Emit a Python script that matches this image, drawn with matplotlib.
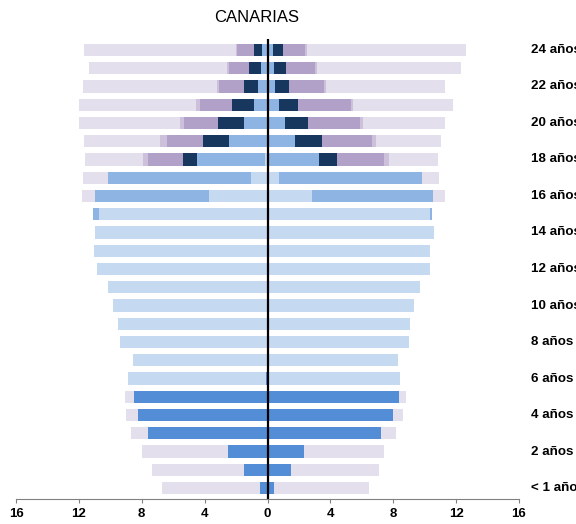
import matplotlib
matplotlib.use("Agg")
import matplotlib.pyplot as plt
import numpy as np

# edades 0..24, valores en % (izquierda = hombres, derecha = mujeres)
edades = list(range(25))
etiquetas = {0: "< 1 año", 2: "2 años", 4: "4 años", 6: "6 años", 8: "8 años",
             10: "10 años", 12: "12 años", 14: "14 años", 16: "16 años",
             18: "18 años", 20: "20 años", 22: "22 años", 24: "24 años"}

# lado izquierdo
infantil_h = [0.48, 1.51, 2.51, 7.60, 8.26, 8.49, 0.10, 0, 0, 0, 0, 0, 0, 0, 0, 0, 0, 0, 0, 0, 0, 0, 0, 0, 0]
primaria_h = [0, 0, 0, 0, 0, 0, 8.79, 8.56, 9.38, 9.49, 9.80, 10.13, 10.87, 11.04, 10.97, 10.74, 3.72, 1.05, 0.16, 0, 0, 0, 0, 0, 0]
eso_h = [0, 0, 0, 0, 0, 0, 0, 0, 0, 0, 0, 0, 0, 0, 0, 0.34, 7.27, 9.12, 4.31, 2.45, 1.48, 0.84, 0.59, 0.43, 0.33]
bach_h = [0, 0, 0, 0, 0, 0, 0, 0, 0, 0, 0, 0, 0, 0, 0, 0, 0, 0, 0.91, 1.65, 1.67, 1.42, 0.90, 0.73, 0.53]
univ_h = [0, 0, 0, 0, 0, 0, 0, 0, 0, 0, 0, 0, 0, 0, 0, 0, 0, 0, 2.24, 2.31, 2.14, 2.03, 1.60, 1.29, 1.10]
otros_h = [0, 0, 0, 0, 0, 0, 0, 0, 0, 0, 0, 0, 0, 0, 0, 0, 0, 0, 0.30, 0.41, 0.28, 0.26, 0.14, 0.11, 0.05]
no_h = [6.25, 5.86, 5.47, 1.08, 0.74, 0.57, 0, 0, 0, 0, 0, 0, 0, 0, 0, 0, 0.83, 1.59, 3.69, 4.87, 6.40, 7.44, 8.49, 8.80, 9.65]

# lado derecho
infantil_m = [0.43, 1.51, 2.34, 7.22, 7.96, 8.35, 0, 0, 0, 0, 0, 0, 0, 0, 0, 0, 0, 0, 0, 0, 0, 0, 0, 0, 0]
primaria_m = [0, 0, 0, 0, 0, 0, 8.45, 8.28, 8.98, 9.08, 9.32, 9.70, 10.36, 10.32, 10.59, 10.34, 2.81, 0.73, 0.11, 0, 0, 0, 0, 0, 0]
eso_m = [0, 0, 0, 0, 0, 0, 0, 0, 0, 0, 0, 0, 0, 0, 0, 0.12, 7.72, 9.08, 3.19, 1.73, 1.09, 0.75, 0.48, 0.41, 0.37]
bach_m = [0, 0, 0, 0, 0, 0, 0, 0, 0, 0, 0, 0, 0, 0, 0, 0, 0, 0, 1.12, 1.76, 1.47, 1.21, 0.89, 0.77, 0.60]
univ_m = [0, 0, 0, 0, 0, 0, 0, 0, 0, 0, 0, 0, 0, 0, 0, 0, 0, 0, 3.01, 3.18, 3.32, 3.33, 2.22, 1.84, 1.42]
otros_m = [0, 0, 0, 0, 0, 0, 0, 0, 0, 0, 0, 0, 0, 0, 0, 0, 0, 0, 0.28, 0.21, 0.18, 0.13, 0.13, 0.11, 0.10]
no_m = [6.05, 5.56, 5.05, 0.95, 0.66, 0.46, 0, 0, 0, 0, 0, 0, 0, 0, 0, 0, 0.76, 1.10, 3.16, 4.16, 5.23, 6.36, 7.57, 9.18, 10.14]

colores = ["#538dd5", "#c5d9f1", "#8db4e2", "#17375e", "#b1a0c7", "#ccc0da", "#e4dfec"]

plt.rcParams['font.family'] = ['Liberation Sans', 'DejaVu Sans']

fig = plt.figure(figsize=(5.76, 5.24), dpi=100)
ax = fig.add_axes([16/576, 25/524, 503/576, 460/524])

izq = [infantil_h, primaria_h, eso_h, bach_h, univ_h, otros_h, no_h]
der = [infantil_m, primaria_m, eso_m, bach_m, univ_m, otros_m, no_m]
y = np.array(edades)

acum = np.zeros(len(edades))
for serie, c in zip(izq, colores):
    v = np.array(serie)
    ax.barh(y, -v, left=-acum, height=0.68, color=c, linewidth=0)
    acum += v

acum = np.zeros(len(edades))
for serie, c in zip(der, colores):
    v = np.array(serie)
    ax.barh(y, v, left=acum, height=0.68, color=c, linewidth=0)
    acum += v

ax.axvline(0, color="black", lw=1.6)

ax.set_xlim(-16, 16)
ax.set_ylim(-0.6, 24.6)
ticks = list(range(-16, 17, 4))
ax.set_xticks(ticks)
ax.set_xticklabels([str(abs(t)) for t in ticks], fontweight="bold", fontsize=9.5)
ax.set_yticks([])
for s in ["top", "right", "left"]:
    ax.spines[s].set_visible(False)
ax.spines["bottom"].set_color("#808080")
ax.tick_params(axis="x", colors="#808080", length=3, labelcolor="black")

for edad, txt in etiquetas.items():
    ax.text(16.76, edad, txt, ha="left", va="center", fontsize=9.6,
            fontweight="bold", clip_on=False)

fig.text(257/576, 1 - 18/524, "CANARIAS", ha="center", va="center", fontsize=12)

fig.savefig("out.png", dpi=100)
